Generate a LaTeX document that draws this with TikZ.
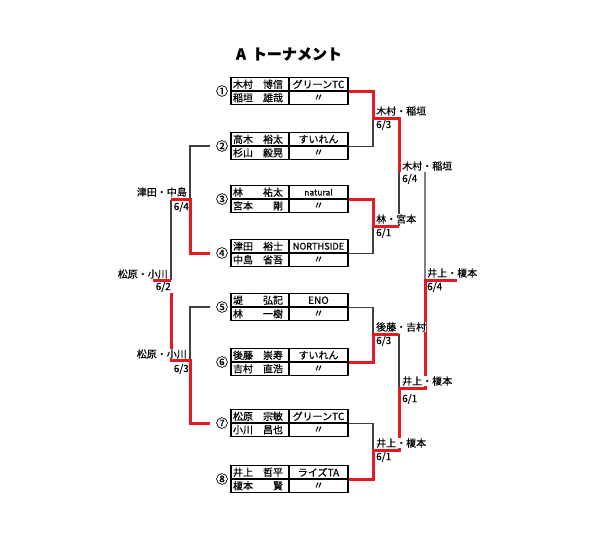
\documentclass[tikz,border=0pt]{standalone}
\usepackage{fontspec}
\setmainfont{Noto Sans CJK JP}[FakeBold=0.5]
\usetikzlibrary{positioning}
\definecolor{winred}{RGB}{232,24,32}

\begin{document}
\begin{tikzpicture}[
  x=1pt, y=-1pt,
  font=\fontsize{10}{12}\selectfont,
  namecell/.style={draw, line width=1.1pt, text width=54pt, inner xsep=2pt, inner ysep=0pt,
                   minimum height=13.5pt, align=left},
  teamcell/.style={draw, line width=1.1pt, minimum width=59pt, minimum height=13.5pt, inner sep=0pt},
  seed/.style={font=\fontsize{12}{13}\selectfont, inner xsep=5.5pt, inner ysep=0pt},
  lose/.style={draw=black!75, line width=1.2pt},
  lose2/.style={draw=black!50, line width=1.2pt},
  win/.style={draw=winred, line width=3pt},
  res/.style={fill=white, inner sep=0pt, anchor=west},
  resl/.style={res, anchor=east},
  day/.style={inner sep=0pt, anchor=west},
]
  \useasboundingbox (0,0) rectangle (595,539);

  \node[font=\fontsize{15}{18}\selectfont\bfseries] (title) at (289,54) {A\hspace{6pt}トーナメント};

  % pairs: seed / middle line / players / team
  \foreach \i/\s/\m/\na/\nb/\team in {
    1/①/91/木村　博信/稲垣　雄哉/グリーンTC,
    2/②/146/高木　裕太/杉山　毅晃/すいれん,
    3/③/199/林　　祐太/宮本　　剛/{\fontsize{8.5}{10}\selectfont natural},
    4/④/253/津田　裕士/中島　省吾/{\fontsize{9.2}{10}\selectfont NORTHSIDE},
    5/⑤/307/堤　　弘記/林　　一樹/ENO,
    6/⑥/362/後藤　崇寿/吉村　直浩/すいれん,
    7/⑦/423/松原　宗敏/小川　昌也/グリーンTC,
    8/⑧/479/井上　哲平/榎本　　賢/ライズTA}
  {
    \node[namecell] (na\i) at (260,\m-6.75) {\na};
    \node[namecell] (nb\i) at (260,\m+6.75) {\nb};
    \node[teamcell] (ta\i) at (318.5,\m-6.75) {\team};
    \node[teamcell] (tb\i) at (318.5,\m+6.75) {〃};
    \node[seed]     (c\i)  at (222,\m) {\s};
  }

  % right side bracket
  \coordinate (j12) at (373,118.5);  \coordinate (k12) at (399,118.5);
  \coordinate (j34) at (373,226);    \coordinate (k34) at (399,226);
  \coordinate (j56) at (373,334);    \coordinate (k56) at (399,334);
  \coordinate (j78) at (373,450);    \coordinate (k78) at (399,450);
  \coordinate (k14) at (399,172);    \coordinate (s14) at (425,172);
  \coordinate (k58) at (399,388);    \coordinate (s58) at (425,388);
  \coordinate (sf)  at (425,280);    \coordinate (ef)  at (457,280);

  \draw[lose] (ta2.south east) -| (j12);
  \draw[lose] (ta4.south east) -| (j34);
  \draw[lose] (k34) -- (k14);
  \draw[lose2] (s14) -- (sf);
  \draw[lose] (ta5.south east) -| (j56);
  \draw[lose] (k56) -- (k58);
  \draw[lose] (ta7.south east) -| (j78);
  \draw[win] (ta1.south east) -| (j12) -- (k12) -- (k14);
  \draw[win] (ta3.south east) -| (j34) -- (k34);
  \draw[win] (ta6.south east) -| (j56) -- (k56);
  \draw[win] (ta8.south east) -| (j78) -- (k78) -- (k58) -- (s58) -- (sf) -- (ef);

  % left side bracket
  \coordinate (k24) at (190,199.5);  \coordinate (j24) at (171,199.5);
  \coordinate (jm)  at (171,280);    \coordinate (em)  at (153,280);
  \coordinate (gm)  at (171,293);
  \coordinate (j57) at (171,360);    \coordinate (k57) at (190,360);

  \draw[lose] (c2.west) -| (k24);
  \draw[lose] (j24) -- (jm);
  \draw[lose] (c5.west) -| (k57);
  \draw[win] (c4.west) -| (k24) -- (j24);
  \draw[win] (em) -- (jm);
  \draw[win] (c7.west) -| (k57) -- (j57) -- (gm);

  % results
  \node[res] (r12)  at (376,111)   {木村・稲垣};
  \node[day] (d12)  at (376,125)   {6/3};
  \node[res] (r14)  at (402,166)   {木村・稲垣};
  \node[day] (d14)  at (402,179)   {6/4};
  \node[res] (r34)  at (376,219)   {林・宮本};
  \node[day] (d34)  at (376,233)   {6/1};
  \node[res] (rfin) at (427,273)   {井上・榎本};
  \node[day] (dfin) at (427,287)   {6/4};
  \node[res] (r56)  at (376,327)   {後藤・吉村};
  \node[day] (d56)  at (376,341)   {6/3};
  \node[res] (r58)  at (402,381)   {井上・榎本};
  \node[day] (d58)  at (402,399)   {6/1};
  \node[res] (r78)  at (376,443)   {井上・榎本};
  \node[day] (d78)  at (376,457)   {6/1};

  \node[resl] (l24)  at (187,192)  {津田・中島};
  \node[day, anchor=east] (ld24) at (189,207) {6/4};
  \node[resl] (lm)   at (168,274)  {松原・小川};
  \node[day, anchor=east] (ldm)  at (171,287) {6/2};
  \node[resl] (l57)  at (187,354)  {松原・小川};
  \node[day, anchor=east] (ld57) at (189,369) {6/3};
\end{tikzpicture}
\end{document}
